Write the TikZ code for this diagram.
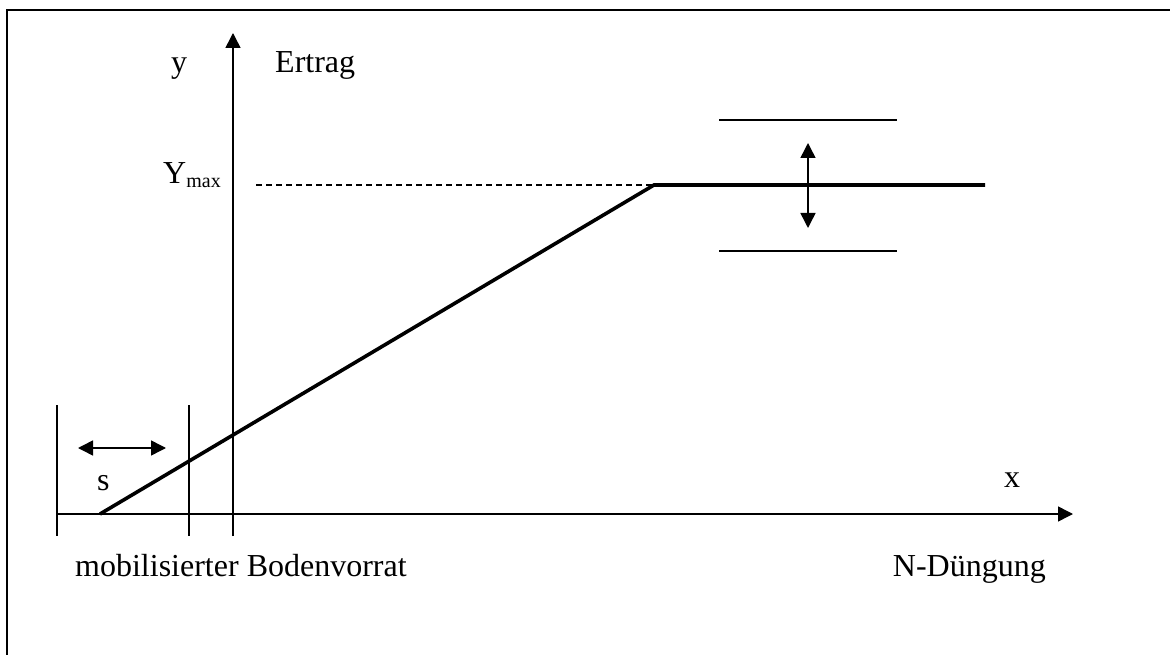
\documentclass[tikz,border=0pt]{standalone}
\usepackage{fontspec}
\setmainfont{Liberation Serif}
\usetikzlibrary{arrows.meta}
\begin{document}
\begin{tikzpicture}[x=1pt,y=-1pt,
  thinline/.style={line width=1.5pt},
  thickline/.style={line width=3.6pt,line join=miter},
  axisarrow/.style={line width=1.5pt,-{Triangle[length=15pt,width=15pt]}},
  dblarrow/.style={line width=1.5pt,{Triangle[length=15pt,width=15pt]}-{Triangle[length=15pt,width=15pt]}},
  lbl/.style={inner sep=0pt,anchor=base west,font=\fontsize{32}{38}\selectfont}]
\useasboundingbox (0,0) rectangle (1170,655);
% frame
\coordinate (fTL) at (7,10);
\coordinate (fTR) at (1171,10);
\coordinate (fBL) at (7,656);
\draw[thinline] (fTR) -- (fTL) -- (fBL);
% axes
\coordinate (yB) at (233,536);
\coordinate (yT) at (233,33);
\coordinate (xL) at (57,514);
\coordinate (xR) at (1073,514);
\draw[axisarrow] (yB) -- (yT);
\draw[axisarrow] (xL) -- (xR);
% vertical marks
\coordinate (v1T) at (57,405);
\coordinate (v1B) at (57,536);
\coordinate (v2T) at (189,405);
\coordinate (v2B) at (189,536);
\draw[thinline] (v1T) -- (v1B);
\draw[thinline] (v2T) -- (v2B);
% s arrow
\coordinate (sL) at (78,448);
\coordinate (sR) at (166,448);
\draw[dblarrow] (sL) -- (sR);
% yield curve
\coordinate (c0) at (100,514);
\coordinate (c1) at (654,185);
\coordinate (c2) at (985,185);
\draw[thickline] (c0) -- (c1) -- (c2);
% dashed Ymax
\coordinate (d0) at (256,185);
\draw[line width=1.3pt,dash pattern=on 6pt off 4pt] (d0) -- (c1);
% range lines
\coordinate (u0) at (719,120);
\coordinate (u1) at (897,120);
\coordinate (l0) at (719,251);
\coordinate (l1) at (897,251);
\draw[thinline] (u0) -- (u1);
\draw[thinline] (l0) -- (l1);
\coordinate (aT) at (808,143);
\coordinate (aB) at (808,228);
\draw[dblarrow] (aB) -- (aT);
% labels
\node[lbl] (ly) at (171,73) {y};
\node[lbl] (lertrag) at (275,73) {Ertrag};
\node[lbl] (lymax) at (163,184) {Y\raisebox{-4pt}{\fontsize{20}{20}\selectfont max}};
\node[lbl] (lx) at (1004,487) {x};
\node[lbl] (ls) at (97,490) {s};
\node[lbl] (lmob) at (75,576) {mobilisierter Bodenvorrat};
\node[lbl,anchor=base east] (ln) at (1046,576) {N-Düngung};
\end{tikzpicture}
\end{document}
